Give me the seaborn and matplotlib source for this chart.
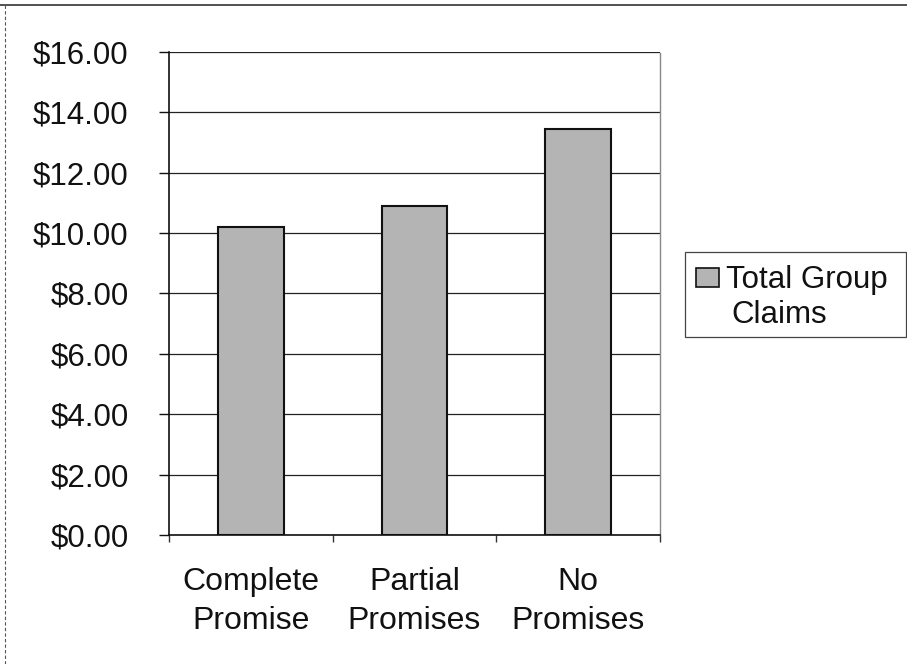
import matplotlib
matplotlib.use("Agg")
import matplotlib.pyplot as plt
import seaborn as sns
import pandas as pd
from matplotlib.lines import Line2D
from matplotlib.patches import Rectangle
from matplotlib.ticker import FixedLocator

categories = ["Complete\nPromise", "Partial\nPromises", "No\nPromises"]
claims = [10.2, 10.9, 13.43]
y_ticks = [0, 2, 4, 6, 8, 10, 12, 14, 16]
series_name = "Total Group\nClaims"

BAR_COLOR = "#b4b4b4"

sns.set_theme(style="white")
plt.rcParams['font.family'] = ['Liberation Sans', 'DejaVu Sans']

df = pd.DataFrame({"cat": categories, "val": claims})

W, H = 907, 664
fig = plt.figure(figsize=(W/100, H/100), dpi=100)
ax = fig.add_axes([169/W, 1-535/H, (660-169)/W, (535-51.7)/H])

sns.barplot(data=df, x="cat", y="val", ax=ax, color=BAR_COLOR, width=0.4,
            edgecolor="#111111", linewidth=1.5, saturation=1, zorder=3)

ax.set_ylim(0, 16)
ax.set_xlim(-0.5, 2.5)
ax.set_yticks(y_ticks)
ax.set_yticklabels([f"${v:.2f}" for v in y_ticks])
ax.set_xlabel("")
ax.set_ylabel("")
ax.yaxis.grid(True, color="#222222", linewidth=0.9, zorder=0)
ax.xaxis.grid(False)
ax.set_axisbelow(True)

for s in ["left", "bottom"]:
    ax.spines[s].set_visible(True)
    ax.spines[s].set_color("#111111")
    ax.spines[s].set_linewidth(1.2)
ax.spines["top"].set_visible(False)
ax.spines["right"].set_visible(True)
ax.spines["right"].set_color("#888888")
ax.spines["right"].set_linestyle((0, (1, 1)))
ax.spines["right"].set_linewidth(1.0)

ax.tick_params(axis="y", which="major", direction="out", length=7, width=1,
               color="#111111", pad=22, labelsize=22.5, left=True)
ax.tick_params(axis="x", which="major", length=0, pad=23, labelsize=23)
ax.xaxis.set_minor_locator(FixedLocator([-0.5, 0.5, 1.5, 2.5]))
ax.tick_params(axis="x", which="minor", direction="out", length=5, width=1,
               color="#333333", bottom=True)
for lbl in ax.get_xticklabels():
    lbl.set_linespacing(1.38)
    lbl.set_color("#111111")
for lbl in ax.get_yticklabels():
    lbl.set_color("#111111")

# legend box (drawn in figure pixel coordinates)
def fx(px):
    return px / W

def fy(py):
    return 1 - py / H

fig.add_artist(Rectangle((fx(685), fy(337)), fx(906) - fx(685), fy(252) - fy(337),
                         transform=fig.transFigure, facecolor="white",
                         edgecolor="#444444", linewidth=0.9))
fig.add_artist(Rectangle((fx(696), fy(287)), fx(719) - fx(696), fy(268) - fy(287),
                         transform=fig.transFigure, facecolor=BAR_COLOR,
                         edgecolor="#111111", linewidth=1.2))
line1, line2 = series_name.split("\n")
fig.text(fx(726), fy(288), line1, fontsize=22.5, color="#111111",
         ha="left", va="baseline")
fig.text(fx(731), fy(323), line2, fontsize=22.5, color="#111111",
         ha="left", va="baseline")

# outer chart frame (top and left edges visible)
fig.add_artist(Line2D([0, 1], [fy(5), fy(5)], transform=fig.transFigure,
                      color="#333333", linewidth=1.2))
fig.add_artist(Line2D([fx(5), fx(5)], [0, fy(5)], transform=fig.transFigure,
                      color="#555555", linewidth=0.8, linestyle=(0, (3, 2))))

fig.savefig("out.png", dpi=100, facecolor="white")
